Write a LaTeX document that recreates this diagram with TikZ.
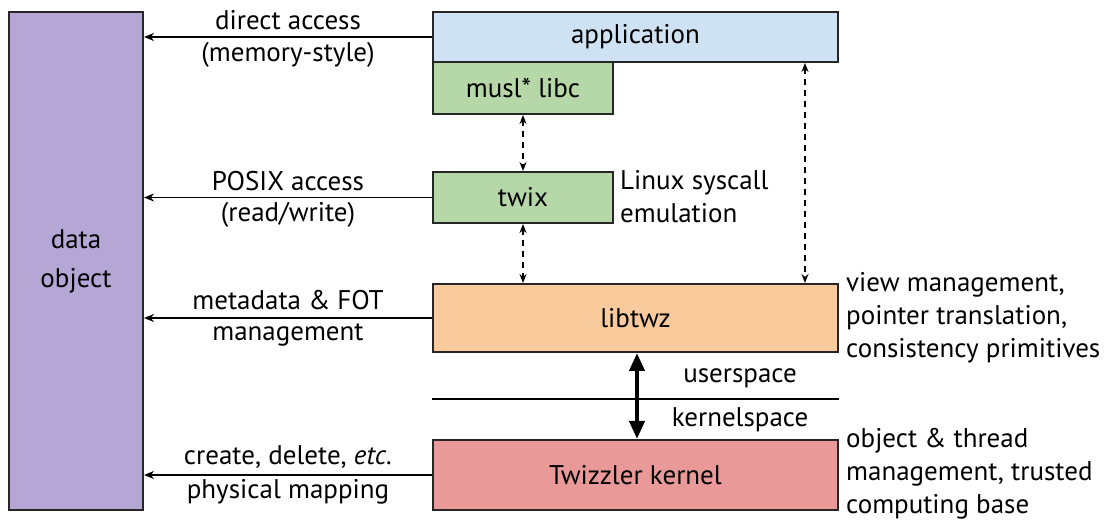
\documentclass[tikz,border=0pt]{standalone}
\usepackage{fontspec}
\setmainfont{PT Sans}
\usetikzlibrary{arrows.meta}
\definecolor{cdata}{HTML}{B4A7D6}
\definecolor{capp}{HTML}{CFE2F3}
\definecolor{cgreen}{HTML}{B6D7A8}
\definecolor{clib}{HTML}{F9CB9C}
\definecolor{ckern}{HTML}{EA9999}
\begin{document}
\begin{tikzpicture}[x=1pt,y=-1pt,
  box/.style={draw=black!85,line width=2pt,inner sep=0pt,font=\fontsize{27}{33}\selectfont},
  lbl/.style={inner sep=0pt,font=\fontsize{27}{33}\selectfont},
  acc/.style={-{Stealth[length=10pt,width=8pt]},line width=1.8pt},
  dsh/.style={{Stealth[length=9pt,width=7pt]}-{Stealth[length=9pt,width=7pt]},line width=1.6pt,dash pattern=on 6pt off 5pt},
  thick2/.style={{Triangle[length=18pt,width=15pt]}-{Triangle[length=18pt,width=15pt]},line width=4pt}]
\useasboundingbox (0,0) rectangle (1120,526);
\node[box,fill=cdata,minimum width=134pt,minimum height=498pt,align=center] (data) at (76,261) {data\\[6pt]object};
\node[box,fill=capp,minimum width=405pt,minimum height=50pt] (app) at (635.5,37) {application};
\node[box,fill=cgreen,minimum width=180pt,minimum height=52pt] (musl) at (523,88) {musl* libc};
\node[box,fill=cgreen,minimum width=180pt,minimum height=51pt] (twix) at (523,197.5) {twix};
\node[box,fill=clib,minimum width=405pt,minimum height=68pt] (libtwz) at (635.5,318) {libtwz};
\node[box,fill=ckern,minimum width=405pt,minimum height=70pt] (kern) at (635.5,475) {Twizzler kernel};
\coordinate (ax) at (805,0);
\coordinate (tx) at (637,0);
\coordinate (sep) at (0,399);
% left arrows
\draw[acc] (app.west) -- (data.east |- app.west);
\draw[acc] (twix.west) -- (data.east |- twix.west);
\draw[acc] (libtwz.west) -- (data.east |- libtwz.west);
\draw[acc] (kern.west) -- (data.east |- kern.west);
% labels of left arrows
\node[lbl] (l1a) at (288,20) {direct access};
\node[lbl] (l1b) at (288,55) {(memory-style)};
\node[lbl] (l2a) at (288,181) {POSIX access};
\node[lbl] (l2b) at (288,215) {(read/write)};
\node[lbl] (l3a) at (288,300) {metadata \& FOT};
\node[lbl] (l3b) at (288,335) {management};
\node[lbl] (l4a) at (288,457) {create, delete, \emph{etc.}};
\node[lbl] (l4b) at (288,492) {physical mapping};
% vertical arrows
\draw[dsh] (musl.south) -- (twix.north);
\draw[dsh] (twix.south) -- (twix.south |- libtwz.north);
\draw[dsh] (app.south -| ax) -- (libtwz.north -| ax);
\draw[thick2] (libtwz.south -| tx) -- (kern.north -| tx);
\draw[line width=1.8pt] (libtwz.west |- sep) -- (libtwz.east |- sep);
\node[lbl] (us) at (740,378) {userspace};
\node[lbl] (ks) at (740,420) {kernelspace};
% side notes
\node[lbl,anchor=west,align=left] (lin) at (620,197) {Linux syscall\\emulation};
\node[lbl,anchor=west,align=left] (vm) at (846,318) {view management,\\pointer translation,\\consistency primitives};
\node[lbl,anchor=west,align=left] (ot) at (846,474) {object \& thread\\management, trusted\\computing base};
\end{tikzpicture}
\end{document}
